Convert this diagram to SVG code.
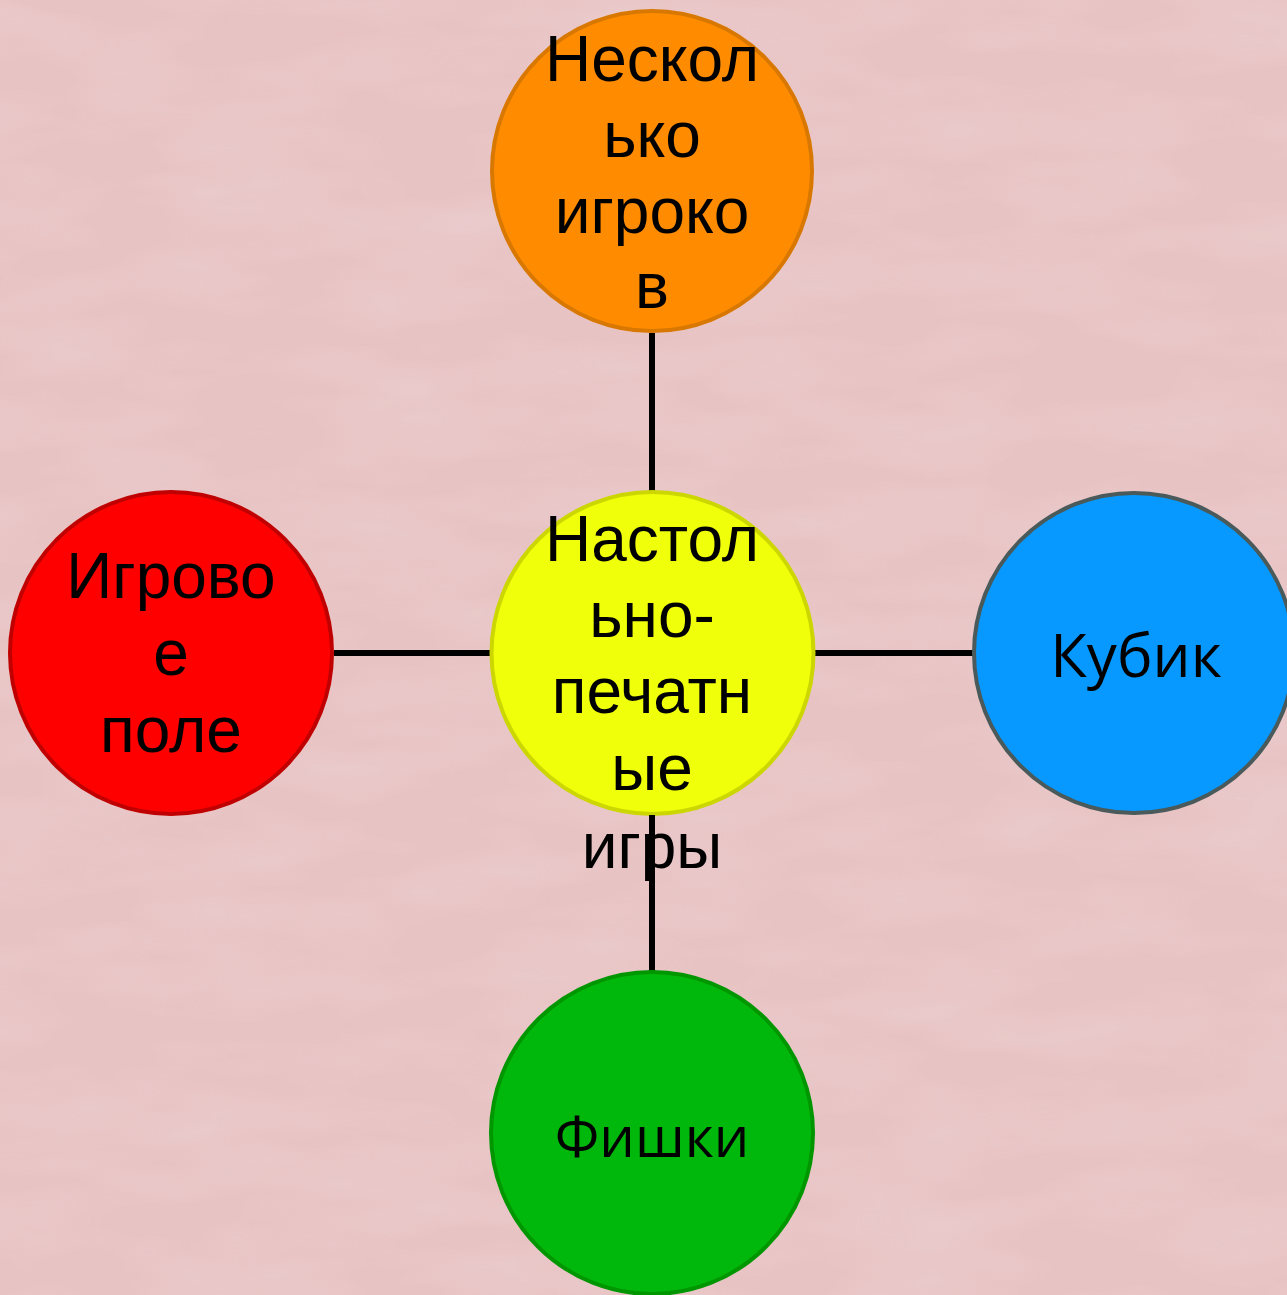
<svg xmlns="http://www.w3.org/2000/svg" width="1287" height="1295" viewBox="0 0 1287 1295">
<defs>
<filter id="tex" x="0" y="0" width="100%" height="100%">
<feTurbulence type="fractalNoise" baseFrequency="0.006 0.02" numOctaves="3" seed="7" result="n"/>
<feColorMatrix in="n" type="matrix" values="0 0 0 0 0.85  0 0 0 0 0.68  0 0 0 0 0.69  0 0 0 -1.2 0.75"/>
</filter>
<style>
.bg{fill:#e8c3c4}
.edge{stroke:#000;stroke-width:6;fill:none}
.node circle{stroke-width:4}
.t{font-family:"Liberation Sans",Arial,sans-serif;font-size:64px;fill:#000;text-anchor:middle}
.t2{font-family:"Open Sans","Noto Sans",sans-serif;font-size:60px;fill:#000;text-anchor:middle}
</style>
</defs>
<rect class="bg" x="0" y="0" width="1287" height="1295"/>
<rect x="0" y="0" width="1287" height="1295" filter="url(#tex)" opacity="0.6"/>
<g id="connectors">
<line class="edge" x1="652" y1="333" x2="652" y2="491"/>
<line class="edge" x1="652" y1="815" x2="652" y2="972"/>
<line class="edge" x1="334" y1="653" x2="491" y2="653"/>
<line class="edge" x1="815" y1="653" x2="973" y2="653"/>
</g>
<g id="node-top" class="node">
<circle cx="652" cy="171" r="160" fill="#ff8c00" stroke="#d97800"/>
<text class="t"><tspan x="652" y="81">Нескол</tspan><tspan x="652" y="157">ько</tspan><tspan x="652" y="233">игроко</tspan><tspan x="652" y="308">в</tspan></text>
</g>
<g id="node-left" class="node">
<circle cx="171" cy="653" r="161" fill="#ff0000" stroke="#c00000"/>
<text class="t"><tspan x="171" y="598">Игрово</tspan><tspan x="171" y="675">е</tspan><tspan x="171" y="752">поле</tspan></text>
</g>
<g id="node-right" class="node">
<circle cx="1134" cy="653" r="160" fill="#0799ff" stroke="#4a5a5a"/>
<text class="t2" x="1136" y="677">Кубик</text>
</g>
<g id="node-bottom" class="node">
<circle cx="652" cy="1133" r="161" fill="#00b80b" stroke="#009600"/>
<text class="t2" x="652" y="1157" style="font-size:56px">Фишки</text>
</g>
<g id="node-center" class="node">
<circle cx="652.5" cy="653" r="161" fill="#f0ff0a" stroke="#ccd600"/>
<text class="t"><tspan x="652" y="561">Настол</tspan><tspan x="652" y="637">ьно-</tspan><tspan x="652" y="713">печатн</tspan><tspan x="652" y="790">ые</tspan><tspan x="652" y="868">игры</tspan></text>
</g>
<line class="edge" x1="652" y1="815" x2="652" y2="880"/>
</svg>
